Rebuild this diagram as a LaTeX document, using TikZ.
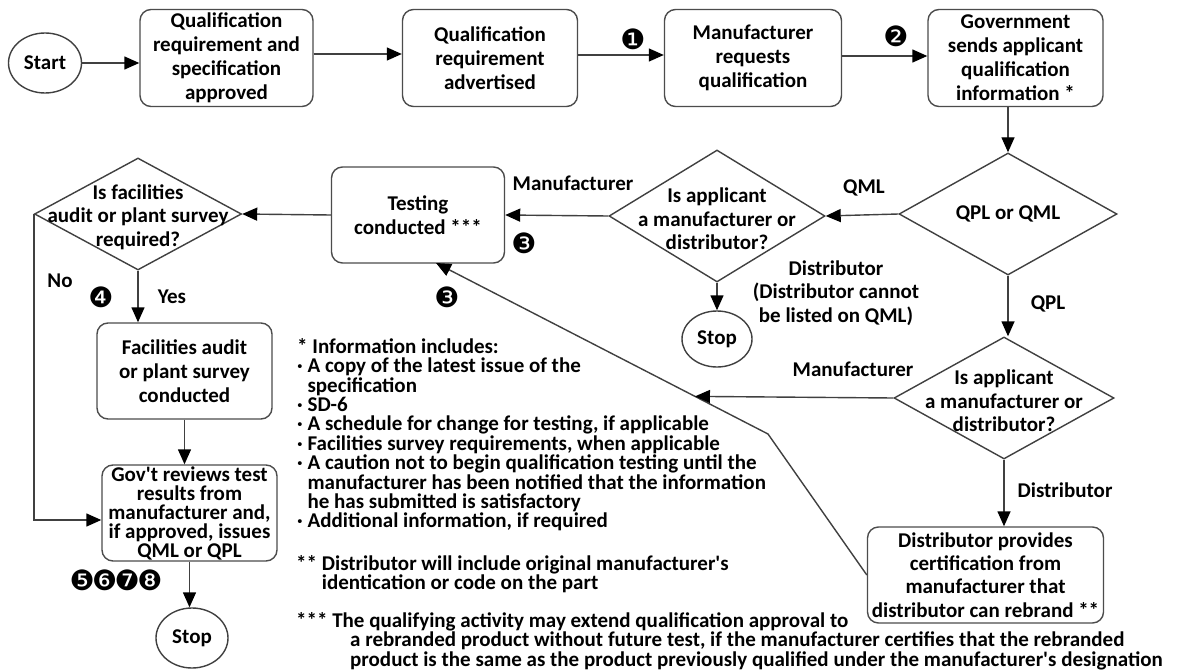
\documentclass[tikz,border=0pt]{standalone}
\usepackage{fontspec}
\setmainfont{Carlito}[Ligatures=TeXOff]
\newfontfamily\dingfont{DejaVu Sans}
\usetikzlibrary{arrows.meta,shapes.geometric,calc}
\tikzset{
  ln/.style={draw=black!75, line width=1.4pt},
  arr/.style={ln, -{Triangle[length=15pt,width=13pt,color=black]}},
  boxnode/.style={draw=black!70, line width=1.4pt, rounded corners=11pt, align=center, inner sep=0pt,
     font=\fontsize{21}{24}\selectfont\bfseries},
  diam/.style={draw=black!75, line width=1.4pt, diamond, inner sep=0pt},
  oval/.style={draw=black!75, line width=1.4pt, ellipse, inner sep=0pt, font=\fontsize{21}{22}\selectfont\bfseries},
  txt/.style={align=center, inner sep=0pt, font=\fontsize{21}{23.5}\selectfont\bfseries},
  lbl/.style={inner sep=0pt, font=\fontsize{21}{22}\selectfont\bfseries},
  num/.style={inner sep=0pt, font=\dingfont\fontsize{28}{28}\selectfont},
  note/.style={align=left, anchor=north west, inner sep=0pt, font=\fontsize{21}{19.4}\selectfont\bfseries}
}
\begin{document}
\begin{tikzpicture}[x=1pt,y=-1pt]
\useasboundingbox[fill=white] (0,0) rectangle (1177,671);

% top row
\node[oval, minimum width=73, minimum height=60] (start) at (45,63) {Start};
\node[boxnode, minimum width=173, minimum height=97] (b1) at (226.5,58) {Qualification\\requirement and\\specification\\approved};
\node[boxnode, minimum width=175, minimum height=97] (b2) at (490,58) {Qualification\\requirement\\advertised};
\node[boxnode, minimum width=177, minimum height=97] (b3) at (753,58) {Manufacturer\\requests\\qualification};
\node[boxnode, minimum width=175, minimum height=97] (b4) at (1015.5,58) {Government\\sends applicant\\qualification\\information *};

\draw[arr] (start) -- (start -| b1.west);
\draw[arr] ([yshift=4pt]b1.east) -- ([yshift=4pt]b2.west);
\draw[arr] ([yshift=3pt]b2.east) -- ([yshift=3pt]b3.west);
\draw[arr] ([yshift=2pt]b3.east) -- ([yshift=2pt]b4.west);
\node[num] (n1) at (633,39) {❶};
\node[num] (n2) at (896,36) {❷};

% QPL / QML
\node[diam, minimum width=218, minimum height=122] (qpl) at (1008,214) {};
\node[txt] (qplt) at (qpl) {QPL or QML};
\draw[arr] (qpl.north |- b4.south) -- (qpl.north);

% upper applicant
\node[diam, minimum width=216, minimum height=132] (a1) at (717,216) {};
\node[txt] (a1t) at (717,219) {Is applicant\\a manufacturer or\\distributor?};
\draw[arr] (qpl.west) -- (a1.east);
\node[lbl] (qml) at (864,188) {QML};

\node[oval, minimum width=70, minimum height=56] (stop1) at (717,339) {Stop};
\draw[arr] (a1.south) -- (stop1.north);
\node[txt] (distl) at (836,293) {Distributor\\(Distributor cannot\\be listed on QML)};

% testing
\node[boxnode, minimum width=173, minimum height=96] (test) at (418,215) {Testing\\conducted ***};
\draw[arr] (a1.west) -- (test.east);
\node[lbl] (man1) at (573,183) {Manufacturer};
\node[num] (n3a) at (524,243) {❸};
\node[num] (n3b) at (447,297) {❸};

% facilities decision
\node[diam, minimum width=207, minimum height=112] (fd) at (138,214) {};
\node[txt] (fdt) at (138,217) {Is facilities\\audit or plant survey\\required?};
\draw[arr] (test.west) -- (fd.east);
\node[lbl] (no) at (60,281) {No};
\node[num] (n4) at (101,297) {❹};
\node[lbl] (yes) at (172,297) {Yes};

\node[boxnode, minimum width=175, minimum height=96] (fac) at (184.5,371) {Facilities audit\\or plant survey\\conducted};
\draw[arr] (fd.south) -- (fd.south |- fac.north);

\node[boxnode, minimum width=175, minimum height=96, font=\fontsize{21}{19}\selectfont\bfseries] (gov) at (189.5,513) {Gov't reviews test\\results from\\manufacturer and,\\if approved, issues\\QML or QPL};
\draw[arr] (fac.south) -- (fac.south |- gov.north);
\draw[arr] (fd.west) |- ($(gov.west)+(0,7)$);
\node[num] (n5) at (116,580) {❺\kern-2.5pt❻\kern-2.5pt❼\kern-2.5pt❽};

\node[oval, minimum width=72, minimum height=60] (stop2) at (192,638) {Stop};
\draw[arr] (gov.south) -- (gov.south |- stop2.north);

% lower applicant
\node[diam, minimum width=220, minimum height=122] (a2) at (1004,398) {};
\node[txt] (a2t) at (1004,401) {Is applicant\\a manufacturer or\\distributor?};
\draw[arr] (qpl.south) -- (qpl.south |- a2.north);
\node[lbl] (qpll) at (1048,304) {QPL};

\node[boxnode, minimum width=236, minimum height=96, font=\fontsize{21}{23.3}\selectfont\bfseries] (dist) at (985.5,575) {Distributor provides\\certification from\\manufacturer that\\distributor can rebrand **};
\draw[arr] (a2.south) -- (a2.south |- dist.north);
\node[lbl] (distl2) at (1065,490) {Distributor};

\coordinate (bend) at (768,434);
\coordinate (tin) at (436,263);
\coordinate (hit) at ($(bend)!0.22!(tin)$);
\draw[arr] (dist.west) -- (bend) -- (tin);
\draw[arr] (a2.west) -- (hit);
\node[lbl] (man2) at (853,369) {Manufacturer};

% notes
\node[note] (notes1) at (297,338) {* Information includes:\\
· A copy of the latest issue of the\\
\phantom{· }specification\\
· SD-6\\
· A schedule for change for testing, if applicable\\
· Facilities survey requirements, when applicable\\
· A caution not to begin qualification testing until the\\
\phantom{· }manufacturer has been notified that the information\\
\phantom{· }he has submitted is satisfactory\\
· Additional information, if required};

\node[note] (notes2) at (296,555) {** Distributor will include original manufacturer's\\
\phantom{** }identication or code on the part};

\node[note] (notes3) at (296,612) {*** The qualifying activity may extend qualification approval to\\
\hspace*{54pt}a rebranded product without future test, if the manufacturer certifies that the rebranded\\
\hspace*{54pt}product is the same as the product previously qualified under the manufacturer's designation};
\end{tikzpicture}
\end{document}
